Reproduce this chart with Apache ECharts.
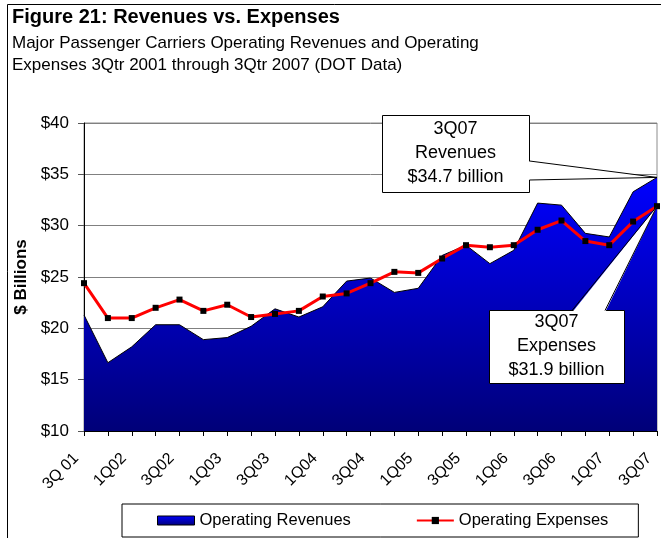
<!DOCTYPE html>
<html>
<head>
<meta charset="utf-8">
<script src="https://cdn.jsdelivr.net/npm/echarts@6/dist/echarts.min.js"></script>
<style>
  html, body { margin: 0; padding: 0; background: #fff; }
  #chart { width: 661px; height: 538px; }
</style>
</head>
<body>
<div id="chart"></div>
<script>
// quarters 3Q 2001 .. 3Q 2007 (labels shown on every other one)
const quarters = ['3Q 01', '4Q01', '1Q02', '2Q02', '3Q02', '4Q02', '1Q03', '2Q03', '3Q03', '4Q03',
  '1Q04', '2Q04', '3Q04', '4Q04', '1Q05', '2Q05', '3Q05', '4Q05', '1Q06', '2Q06',
  '3Q06', '4Q06', '1Q07', '2Q07', '3Q07']

// $ billions
const revenues = [21.3, 16.65, 18.2, 20.35, 20.35, 18.9, 19.1, 20.2, 21.9, 21.1,
  22.1, 24.6, 24.9, 23.5, 23.9, 27.1, 28.1, 26.3, 27.6, 32.2,
  32.0, 29.25, 28.9, 33.3, 34.7]
const expenses = [24.4, 21.0, 21.0, 22.0, 22.8, 21.7, 22.3, 21.1, 21.4, 21.7,
  23.1, 23.4, 24.4, 25.5, 25.4, 26.8, 28.1, 27.9, 28.1, 29.6,
  30.5, 28.5, 28.1, 30.4, 31.9]

const yMin = 10
const yMax = 40
const yStep = 5

const revCallout = ['3Q07', 'Revenues', '$34.7 billion']
const expCallout = ['3Q07', 'Expenses', '$31.9 billion']

const font = '"Liberation Sans", Arial, sans-serif'

const areaFill = new echarts.graphic.LinearGradient(0, 0, 0, 1, [
  { offset: 0, color: '#0000FF' },
  { offset: 1, color: '#000078' }
])

const chart = echarts.init(document.getElementById('chart'))

chart.setOption({
  animation: false,
  textStyle: { fontFamily: font, color: '#000' },
  title: {
    left: 12,
    top: 7,
    text: 'Figure 21: Revenues vs. Expenses',
    textStyle: { fontFamily: font, fontSize: 20, fontWeight: 'bold', color: '#000' },
    subtext: 'Major Passenger Carriers Operating Revenues and Operating\nExpenses 3Qtr 2001 through 3Qtr 2007 (DOT Data)',
    subtextStyle: { fontFamily: font, fontSize: 17, lineHeight: 22, color: '#000' },
    itemGap: 5,
    padding: 0
  },
  legend: {
    left: 122,
    top: 504,
    padding: [8, 30, 8, 35],
    itemGap: 65,
    itemWidth: 37,
    itemHeight: 9,
    borderColor: '#000',
    borderWidth: 1,
    textStyle: { fontFamily: font, fontSize: 16.5, color: '#000' },
    data: [
      { name: 'Operating Revenues', icon: 'rect', itemStyle: { color: areaFill, borderColor: '#000', borderWidth: 1 } },
      { name: 'Operating Expenses' }
    ]
  },
  grid: {
    left: 84,
    right: 4,
    top: 123,
    bottom: 107,
    show: true,
    borderColor: '#8c8c8c',
    borderWidth: 1,
    backgroundColor: 'transparent'
  },
  xAxis: {
    type: 'category',
    data: quarters,
    boundaryGap: false,
    axisLine: { lineStyle: { color: '#000', width: 1 } },
    axisTick: { show: true, interval: 0, length: 5, lineStyle: { color: '#000' } },
    axisLabel: {
      interval: 1,
      rotate: 45,
      margin: 17,
      padding: [0, 11, 0, 0],
      fontFamily: font,
      fontSize: 16,
      color: '#000'
    },
    splitLine: { show: false }
  },
  yAxis: {
    type: 'value',
    min: yMin,
    max: yMax,
    interval: yStep,
    name: '$ Billions',
    nameLocation: 'middle',
    nameRotate: 90,
    nameGap: 53,
    nameTextStyle: { fontFamily: font, fontSize: 17, fontWeight: 'bold', color: '#000' },
    axisLine: { show: true, lineStyle: { color: '#000', width: 1 } },
    axisTick: { show: true, length: 6, lineStyle: { color: '#555' } },
    axisLabel: {
      margin: 15,
      fontFamily: font,
      fontSize: 17,
      color: '#000',
      formatter: (v) => '$' + v
    },
    splitLine: { show: true, lineStyle: { color: '#808080', width: 1 } }
  },
  series: [
    {
      name: 'Operating Revenues',
      type: 'line',
      data: revenues,
      symbol: 'none',
      showSymbol: false,
      lineStyle: { color: '#000', width: 1 },
      itemStyle: { color: '#0000CC' },
      areaStyle: { color: areaFill, opacity: 1 },
      z: 2
    },
    {
      name: 'Operating Expenses',
      type: 'line',
      data: expenses,
      symbol: 'rect',
      symbolSize: 6,
      lineStyle: { color: '#FF0000', width: 3 },
      itemStyle: { color: '#000' },
      z: 3
    }
  ]
})

// callout boxes pointing at the last quarter's values
const last = quarters.length - 1
const revTip = chart.convertToPixel({ seriesIndex: 0 }, [last, revenues[last]])
const expTip = chart.convertToPixel({ seriesIndex: 1 }, [last, expenses[last]])

function callout(box, base, inner, tip, lines) {
  return [
    {
      type: 'rect',
      z: 100,
      shape: { x: box[0] + 0.5, y: box[1] + 0.5, width: box[2], height: box[3] },
      style: { fill: '#fff', stroke: '#000', lineWidth: 1 }
    },
    {
      type: 'polygon',
      z: 101,
      shape: { points: [inner[0], tip, inner[1]] },
      style: { fill: '#fff' }
    },
    {
      type: 'polyline',
      z: 102,
      shape: { points: [base[0], tip, base[1]] },
      style: { stroke: '#000', lineWidth: 1, fill: null }
    },
    {
      type: 'text',
      z: 103,
      x: box[0] + box[2] / 2,
      y: box[1] + box[3] / 2,
      style: {
        text: lines.join('\n'),
        fontFamily: font,
        fontSize: 18,
        lineHeight: 24,
        fill: '#000',
        align: 'center',
        verticalAlign: 'middle'
      }
    }
  ]
}

chart.setOption({
  graphic: [
    {
      type: 'rect',
      z: 0,
      silent: true,
      shape: { x: 7.5, y: 4.5, width: 700, height: 600 },
      style: { fill: null, stroke: '#000', lineWidth: 1 }
    },
    ...callout([382, 115, 147, 77],
      [[529.5, 161], [529.5, 180]], [[527.5, 161], [527.5, 180]],
      revTip, revCallout),
    ...callout([489, 310, 135, 73],
      [[572, 310.5], [605, 310.5]], [[572, 312.5], [605, 312.5]],
      expTip, expCallout)
  ]
})
</script>
</body>
</html>
